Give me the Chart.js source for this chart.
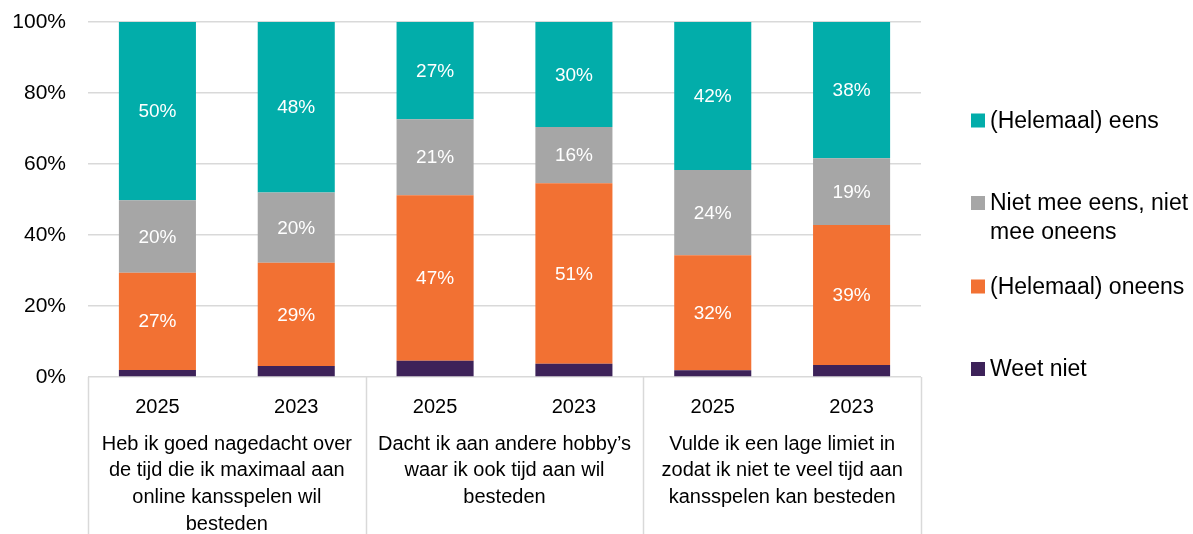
<!DOCTYPE html>
<html>
<head>
<meta charset="utf-8">
<script src="https://cdn.jsdelivr.net/npm/chart.js@4.4.1/dist/chart.umd.min.js"></script>
<style>
  html, body { margin:0; padding:0; background:#fff; }
  #wrap { width:1193px; height:534px; position:relative; }
</style>
</head>
<body>
<div id="wrap"><canvas id="myChart"></canvas></div>
<script>
// bars, left to right
var years = ['2025', '2023', '2025', '2023', '2025', '2023'];
// one statement per pair of bars
var groups = [
  ['Heb ik goed nagedacht over', 'de tijd die ik maximaal aan', 'online kansspelen wil', 'besteden'],
  ['Dacht ik aan andere hobby\u2019s', 'waar ik ook tijd aan wil', 'besteden'],
  ['Vulde ik een lage limiet in', 'zodat ik niet te veel tijd aan', 'kansspelen kan besteden']
];
var seriesNames = ['Weet niet', '(Helemaal) oneens', 'Niet mee eens, niet mee oneens', '(Helemaal) eens'];
var weetNiet = [2.0, 3.1, 4.6, 3.7, 1.9, 3.4];
var oneens   = [27.4, 29.1, 46.6, 50.9, 32.4, 39.4];
var neutraal = [20.4, 19.8, 21.4, 15.8, 24.0, 18.8];
var eens     = [50.2, 48.0, 27.4, 29.6, 41.7, 38.4];
var yTicks = [0, 20, 40, 60, 80, 100];

var colors = ['#3d2259', '#f27133', '#a6a6a6', '#02adaa'];
var FONT = '"Liberation Sans", Arial, sans-serif';

// percentages inside the segments (not for "Weet niet")
var valueLabels = {
  id: 'valueLabels',
  afterDatasetsDraw: function(chart) {
    var ctx = chart.ctx;
    ctx.save();
    ctx.fillStyle = '#ffffff';
    ctx.font = '19px ' + FONT;
    ctx.textAlign = 'center';
    ctx.textBaseline = 'middle';
    chart.data.datasets.forEach(function(ds, i) {
      if (i === 0) return;
      chart.getDatasetMeta(i).data.forEach(function(bar, j) {
        ctx.fillText(Math.round(ds.data[j]) + '%', bar.x, (bar.y + bar.base) / 2 + 1);
      });
    });
    ctx.restore();
  }
};

// second level of the x axis: separators and statements
var groupAxis = {
  id: 'groupAxis',
  afterDraw: function(chart) {
    var ctx = chart.ctx, area = chart.chartArea, xs = chart.scales.x;
    var step = (area.right - area.left) / years.length;
    ctx.save();
    ctx.strokeStyle = '#d9d9d9';
    ctx.lineWidth = 1.5;
    for (var g = 0; g <= groups.length; g++) {
      var px = Math.round(area.left + g * 2 * step) + 0.5;
      ctx.beginPath();
      ctx.moveTo(px, area.bottom);
      ctx.lineTo(px, chart.height);
      ctx.stroke();
    }
    ctx.fillStyle = '#000';
    ctx.font = '20px ' + FONT;
    ctx.textAlign = 'center';
    ctx.textBaseline = 'middle';
    groups.forEach(function(lines, g) {
      var cx = (xs.getPixelForValue(g * 2) + xs.getPixelForValue(g * 2 + 1)) / 2;
      lines.forEach(function(t, k) {
        ctx.fillText(t, cx, area.bottom + 67 + k * 26.7);
      });
    });
    ctx.restore();
  }
};

// legend on the right, top item first
var sideLegend = {
  id: 'sideLegend',
  afterDraw: function(chart) {
    var ctx = chart.ctx;
    var rowsY = [120.5, 203, 286.5, 369];
    ctx.save();
    ctx.font = '23px ' + FONT;
    ctx.textBaseline = 'middle';
    ctx.textAlign = 'left';
    var order = chart.data.datasets.slice().reverse();
    order.forEach(function(ds, k) {
      var y = rowsY[k];
      ctx.fillStyle = ds.backgroundColor;
      ctx.fillRect(971, y - 7, 14, 14);
      // simple word wrap
      var words = ds.label.split(' '), lines = [], cur = '';
      words.forEach(function(w) {
        var test = cur ? cur + ' ' + w : w;
        if (ctx.measureText(test).width > 202 && cur) { lines.push(cur); cur = w; }
        else cur = test;
      });
      lines.push(cur);
      ctx.fillStyle = '#000';
      lines.forEach(function(l, n) { ctx.fillText(l, 990, y + 1 + n * 29); });
    });
    ctx.restore();
  }
};

var ctx = document.getElementById('myChart');
var myChart = new Chart(ctx, {
  type: 'bar',
  data: {
    labels: years,
    datasets: [
      { label: seriesNames[0], data: weetNiet, backgroundColor: colors[0] },
      { label: seriesNames[1], data: oneens,   backgroundColor: colors[1] },
      { label: seriesNames[2], data: neutraal, backgroundColor: colors[2] },
      { label: seriesNames[3], data: eens,     backgroundColor: colors[3] }
    ]
  },
  options: {
    responsive: true,
    maintainAspectRatio: false,
    animation: false,
    layout: { padding: { top: 22, right: 272, bottom: 0, left: 0 } },
    datasets: { bar: { categoryPercentage: 1, barPercentage: 0.555, borderWidth: 0 } },
    plugins: { legend: { display: false }, tooltip: { enabled: false } },
    scales: {
      x: {
        stacked: true,
        grid: { display: false },
        border: { display: false },
        ticks: { color: '#000', font: { family: FONT, size: 20 }, padding: 10, maxRotation: 0 },
        afterFit: function(scale) { scale.height = 157; }
      },
      y: {
        stacked: true,
        min: 0,
        max: 100,
        afterBuildTicks: function(scale) { scale.ticks = yTicks.map(function(v) { return { value: v }; }); },
        // invisible tick marks keep the labels away from the plot
        grid: { color: '#d9d9d9', lineWidth: 1.5, drawTicks: true, tickLength: 22, tickColor: 'rgba(0,0,0,0)' },
        border: { display: false },
        ticks: {
          color: '#000',
          font: { family: FONT, size: 21 },
          padding: 0,
          callback: function(v) { return v + '%'; }
        },
        afterFit: function(scale) { scale.width = 88; }
      }
    }
  },
  plugins: [valueLabels, groupAxis, sideLegend]
});
</script>
</body>
</html>
